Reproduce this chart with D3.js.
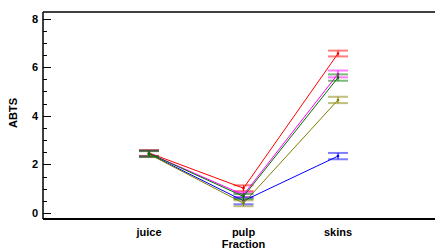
<!DOCTYPE html>
<html>
<head>
<meta charset="utf-8">
<script src="https://cdn.jsdelivr.net/npm/d3@7"></script>
<style>
  body { margin: 0; background: #fff; }
  text { font-family: "Liberation Sans", Arial, sans-serif; font-weight: bold; }
</style>
</head>
<body>
<div id="chart"></div>
<script>
// categories on the x axis
var fractions = ["juice", "pulp", "skins"];

// series values (ABTS) and errors, one array per series
var blue_vals = [2.43, 0.5, 2.34];
var blue_err = [0.12, 0.14, 0.13];
var olive_vals = [2.42, 0.4, 4.65];
var olive_err = [0.12, 0.12, 0.13];
var green_vals = [2.45, 0.68, 5.57];
var green_err = [0.12, 0.1, 0.13];
var magenta_vals = [2.45, 0.75, 5.72];
var magenta_err = [0.12, 0.1, 0.14];
var red_vals = [2.47, 1.02, 6.56];
var red_err = [0.12, 0.12, 0.12];

var y_ticks = [0, 2, 4, 6, 8];

// drawing order: last one ends on top
var series = [
  {color: "#ff0000", vals: red_vals, err: red_err},
  {color: "#ff00ff", vals: magenta_vals, err: magenta_err},
  {color: "#0000ff", vals: blue_vals, err: blue_err},
  {color: "#808000", vals: olive_vals, err: olive_err},
  {color: "#007000", vals: green_vals, err: green_err}
];

var width = 435, height = 251;
var left = 43, top_y = 12, bottom = 219;

var svg = d3.select("#chart").append("svg")
  .attr("width", width).attr("height", height);

var x = d3.scalePoint().domain(fractions).range([149, 338]);
var y = d3.scaleLinear().domain([0, 8]).range([213, 18.5]);

// frame lines
svg.append("line").attr("x1", left).attr("x2", width).attr("y1", bottom).attr("y2", bottom)
  .style("stroke", "#000").style("stroke-width", 2);
svg.append("line").attr("x1", left).attr("x2", width).attr("y1", top_y).attr("y2", top_y)
  .style("stroke", "#000").style("stroke-width", 1.5);
svg.append("line").attr("x1", left).attr("x2", left).attr("y1", top_y).attr("y2", bottom)
  .style("stroke", "#000").style("stroke-width", 1.5);

// y ticks (inward) with minor ticks every 0.5
var minor = d3.range(0, 8.01, 0.5);
svg.selectAll(".ytick").data(minor).enter().append("line")
  .attr("x1", left).attr("x2", function(d){ return y_ticks.indexOf(d) >= 0 ? left + 8 : left + 4; })
  .attr("y1", function(d){ return Math.round(y(d)) + 0.5; })
  .attr("y2", function(d){ return Math.round(y(d)) + 0.5; })
  .style("stroke", "#000").style("stroke-width", 1);

svg.selectAll(".ylab").data(y_ticks).enter().append("text")
  .attr("x", left - 5).attr("y", function(d){ return y(d) + 4; })
  .attr("text-anchor", "end").style("font-size", "11px")
  .text(function(d){ return d; });

svg.selectAll(".xlab").data(fractions).enter().append("text")
  .attr("x", function(d){ return x(d); }).attr("y", 236)
  .attr("text-anchor", "middle").style("font-size", "11px")
  .text(function(d){ return d; });

svg.append("text").attr("x", x("pulp")).attr("y", 248)
  .attr("text-anchor", "middle").style("font-size", "11px").text("Fraction");

svg.append("text").attr("transform", "translate(17,113) rotate(-90)")
  .attr("text-anchor", "middle").style("font-size", "11px").text("ABTS");

var line = d3.line()
  .x(function(d, i){ return x(fractions[i]); })
  .y(function(d){ return y(d); });

series.forEach(function(s){
  var g = svg.append("g");
  g.append("path").attr("d", line(s.vals))
    .style("fill", "none").style("stroke", s.color).style("stroke-width", 1);
  fractions.forEach(function(f, i){
    var cx = x(f), v = s.vals[i], e = s.err[i];
    g.append("line").attr("x1", cx).attr("x2", cx)
      .attr("y1", y(v - e)).attr("y2", y(v + e))
      .style("stroke", s.color).style("stroke-width", 1);
    [v - e, v + e].forEach(function(c){
      g.append("line").attr("x1", cx - 10).attr("x2", cx + 10)
        .attr("y1", y(c)).attr("y2", y(c))
        .style("stroke", s.color).style("stroke-width", 2).style("opacity", 0.5);
    });
    g.append("circle").attr("cx", cx).attr("cy", y(v)).attr("r", 1.3)
      .style("fill", s.color);
  });
});
</script>
</body>
</html>
